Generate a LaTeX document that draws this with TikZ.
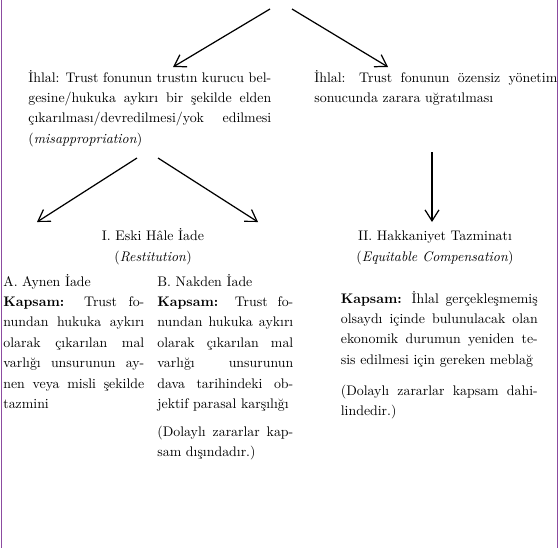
\documentclass[tikz,border=0pt]{standalone}
\usepackage{fontspec}
\setmainfont{lmroman10-regular.otf}[BoldFont=lmroman10-bold.otf,
  ItalicFont=lmroman10-italic.otf, BoldItalicFont=lmroman10-bolditalic.otf]
\usetikzlibrary{arrows.meta}
\definecolor{kenar}{RGB}{140,75,160}

\begin{document}
\begin{tikzpicture}[x=0.02cm, y=-0.02cm,
  every node/.style={inner sep=0, font=\fontsize{7.9}{11.66}\selectfont},
  metin/.style={anchor=base west, align=justify},
  baslik/.style={anchor=base, align=center},
  ok/.style={line width=0.7pt, -{Straight Barb[length=2.2mm,width=2.8mm]}}]
  \useasboundingbox (0,0) rectangle (560,548);
  \draw[kenar, line width=1pt] (1.5,0) -- (1.5,548);
  \draw[kenar, line width=1pt] (557.5,0) -- (557.5,548);

  \node[metin, text width=4.86cm] at (28,82) (ihlalA) {İhlal: Trust fonunun trustın kurucu bel-\linebreak
    gesine/hukuka aykırı bir şekilde elden\linebreak
    çıkarılması/devredilmesi/yok edilmesi\linebreak
    (\textit{misappropriation})};
  \node[metin, text width=4.86cm] at (314,82) (ihlalB) {İhlal: Trust fonunun özensiz yönetim\linebreak
    sonucunda zarara uğratılması};

  \node[baslik] at (153,261) (eski) {I. Eski Hâle İade\\(\textit{Restitution})};
  \node[baslik] at (435,261) (hakk) {II. Hakkaniyet Tazminatı\\(\textit{Equitable Compensation})};

  \node[metin, text width=2.82cm] at (3,286) (aynen) {A. Aynen İade\\
    \textbf{Kapsam:} Trust fo-\linebreak
    nundan hukuka aykırı\linebreak
    olarak çıkarılan mal\linebreak
    varlığı unsurunun ay-\linebreak
    nen veya misli şekilde\linebreak
    tazmini};
  \node[metin, text width=2.72cm] at (157,286) (nakden) {B. Nakden İade\\
    \textbf{Kapsam:} Trust fo-\linebreak
    nundan hukuka aykırı\linebreak
    olarak çıkarılan mal\linebreak
    varlığı unsurunun\linebreak
    dava tarihindeki ob-\linebreak
    jektif parasal karşılığı};
  \node[metin, text width=2.72cm] at (157,436) (nakdenNot) {(Dolaylı zararlar kap-\linebreak
    sam dışındadır.)};
  \node[metin, text width=3.94cm] at (340.5,303) (tazmin) {\textbf{Kapsam:} İhlal gerçekleşmemiş\linebreak
    olsaydı içinde bulunulacak olan\linebreak
    ekonomik durumun yeniden te-\linebreak
    sis edilmesi için gereken meblağ};
  \node[metin, text width=3.94cm] at (340.5,395) (tazminNot) {(Dolaylı zararlar kapsam dahi-\linebreak
    lindedir.)};

  \coordinate (ustSol) at (270,9);
  \coordinate (ustSag) at (292,9);
  \coordinate (ucA) at (173,67);
  \coordinate (ucB) at (388,67);
  \coordinate (altSol) at (137,158);
  \coordinate (altSag) at (158,158);
  \coordinate (ucAynen) at (37,222);
  \coordinate (ucNakden) at (258,222);
  \coordinate (altB) at (432,152);
  \coordinate (ucHakk) at (432,222);

  \draw[ok] (ustSol) -- (ucA);
  \draw[ok] (ustSag) -- (ucB);
  \draw[ok] (altSol) -- (ucAynen);
  \draw[ok] (altSag) -- (ucNakden);
  \draw[ok] (altB) -- (ucHakk);
\end{tikzpicture}
\end{document}
